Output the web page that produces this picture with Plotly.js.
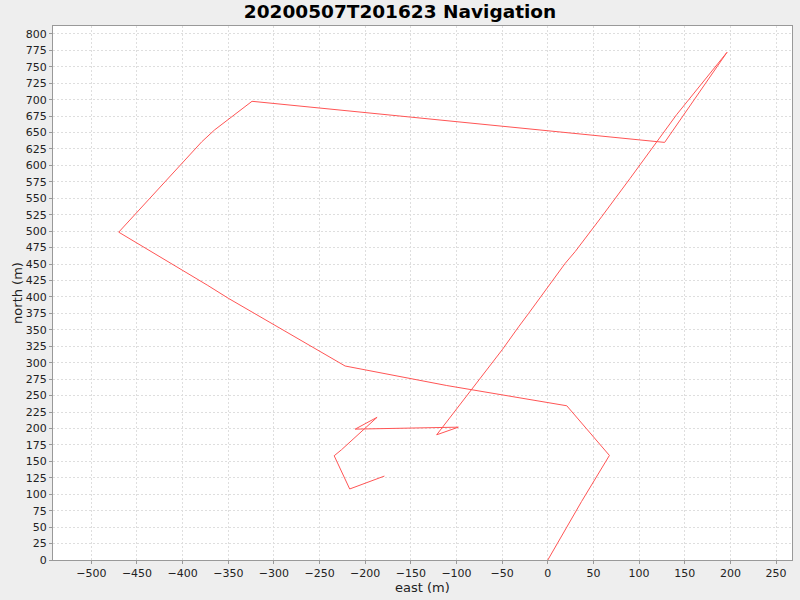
<!DOCTYPE html>
<html>
<head>
<meta charset="utf-8">
<script src="https://cdn.plot.ly/plotly-3.0.1.min.js"></script>
<style>html,body{margin:0;padding:0;background:#eeeeee;}#chart{width:800px;height:600px;}</style>
</head>
<body>
<div id="chart"></div>
<script>
// Track points (east, north) in metres
const east  = [0, 37, 67.5, 20.8, -110.7, -222, -350, -373, -470, -379, -365, -324, 128, 196.3, 141, 119.5, 104.8, 90, 59, 30, 19, -8.4, -21, -32, -50, -121.7, -98, -211, -187, -226, -234, -217, -179];
const north = [0, 89, 159, 234.5, 265.3, 295, 398, 418, 498.5, 636, 654, 697.5, 635, 772, 677, 636, 607, 580, 522, 469, 451, 398, 375, 354.5, 319.6, 190.4, 202, 199, 217, 167.6, 158.5, 108, 127.6];
const titleText = "20200507T201623 Navigation";
const xLabel = "east (m)";
const yLabel = "north (m)";

const trace = {
  x: east, y: north, type: 'scatter', mode: 'lines',
  line: {color: '#ff5555', width: 1}, hoverinfo: 'none'
};

const axisCommon = {
  showgrid: true, gridcolor: '#dedede', griddash: '2px,2px', gridwidth: 1,
  zeroline: false, showline: true, linecolor: '#999999', linewidth: 1, mirror: true,
  ticks: 'outside', ticklen: 3, tickcolor: '#999999',
  tickfont: {family: 'DejaVu Sans', size: 11, color: '#222222'}
};

const layout = {
  width: 800, height: 600,
  paper_bgcolor: '#eeeeee', plot_bgcolor: '#ffffff',
  margin: {l: 53, r: 8, t: 26, b: 40},
  showlegend: false,
  title: {text: '<b>' + titleText + '</b>', font: {family: 'DejaVu Sans', size: 18.5, color: '#000000'}, x: 0.5, xanchor: 'center', y: 0.98, yanchor: 'middle'},
  xaxis: Object.assign({}, axisCommon, {
    range: [-542, 267.5], tickmode: 'linear', tick0: 0, dtick: 50
  }),
  yaxis: Object.assign({}, axisCommon, {
    range: [0, 812], tickmode: 'linear', tick0: 0, dtick: 25,
    title: {text: yLabel, font: {family: 'DejaVu Sans', size: 13, color: '#222222'}, standoff: 0}
  }),
  annotations: [{
    text: xLabel, xref: 'paper', yref: 'paper', x: 0.5, y: 0,
    xanchor: 'center', yanchor: 'middle', yshift: -27.5, showarrow: false,
    font: {family: 'DejaVu Sans', size: 13, color: '#222222'}
  }]
};

Plotly.newPlot('chart', [trace], layout, {staticPlot: true, displayModeBar: false});
</script>
</body>
</html>
